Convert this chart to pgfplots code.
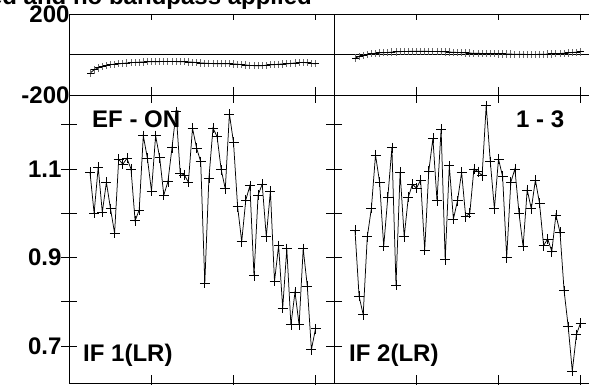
\documentclass[border=0pt]{standalone}
\usepackage{fontspec}
\setmainfont{Liberation Sans}
\usepackage{pgfplots}
\usepackage{pgfplotstable}
\pgfplotsset{compat=1.18}

\pgfplotstableread{
x amp ph
21.0 1.0925 -92
25.1 1.000 -76
29.2 1.104 -66
33.3 1.002 -59
37.4 1.070 -54
41.5 1.010 -50
45.6 0.955 -48
49.7 1.122 -46
53.8 1.1105 -44
57.9 1.124 -42
62.0 1.100 -40
66.1 0.983 -39
70.2 1.0075 -38
74.3 1.175 -37
78.4 1.124 -36
82.5 1.050 -36
86.6 1.175 -36
90.7 1.1255 -35
94.8 1.041 -35
98.9 1.071 -35
103.0 1.148 -35
107.1 1.229 -35
111.2 1.090 -36
115.3 1.0865 -36
119.4 1.070 -37
123.5 1.192 -38
127.6 1.147 -40
131.7 1.1165 -42
135.8 0.842 -43
139.9 1.079 -44
144.0 1.192 -45
148.1 1.173 -45
152.2 1.098 -46
156.3 1.055 -46
160.4 1.224 -46
164.5 1.160 -47
168.6 1.015 -48
172.7 0.936 -50
176.8 1.030 -52
180.9 1.062 -54
185.0 0.859 -55
189.1 1.041 -56
193.2 1.0655 -55
197.3 0.947 -53
201.4 1.050 -51
205.5 0.846 -50
209.6 0.927 -48
213.7 0.786 -47
217.8 0.920 -46
221.9 0.748 -44
226.0 0.822 -42
230.1 0.748 -40
234.2 0.920 -39
238.3 0.835 -41
242.4 0.692 -44
246.5 0.739 -46
}\tableL

\pgfplotstableread{
x amp ph
21.0 0.961 -18
25.1 0.812 -10
29.2 0.771 -4
33.3 0.947 1
37.4 1.011 4
41.5 1.1316 6
45.6 1.070 8
49.7 0.925 9
53.8 1.036 10
57.9 1.148 12
62.0 0.838 13
66.1 1.0925 14
70.2 0.947 15
74.3 1.036 15
78.4 1.0655 16
82.5 1.0565 16
86.6 1.075 16
90.7 0.917 16
94.8 1.0955 15
98.9 1.169 15
103.0 1.028 15
107.1 1.190 14
111.2 0.895 13
115.3 1.107 12
119.4 0.987 11
123.5 1.028 10
127.6 1.0925 9
131.7 0.992 8
135.8 1.000 7
139.9 1.100 6
144.0 1.094 6
148.1 1.085 5
152.2 1.243 5
156.3 1.1165 4
160.4 1.010 4
164.5 1.1225 3
168.6 1.083 3
172.7 0.900 2
176.8 1.070 2
180.9 1.100 1
185.0 1.000 1
189.1 0.925 1
193.2 1.0527 0
197.3 1.010 0
201.4 1.075 0
205.5 1.0227 1
209.6 0.927 1
213.7 0.942 2
217.8 0.9135 3
221.9 0.996 4
226.0 0.957 5
230.1 0.825 6
234.2 0.744 8
238.3 0.643 10
242.4 0.726 11
246.5 0.752 13
}\tableR

\pgfplotsset{
  panel/.style={
    scale only axis, width=265pt,
    xmin=0, xmax=265,
    xtick={82,164,246}, xticklabels={},
    axis line style={black, line width=0.8pt},
    tick style={black, line width=0.8pt},
    ticklabel style={font=\fontsize{24}{28}\selectfont\bfseries},
    yticklabel style={xshift=4pt},
  },
  amp/.style={
    panel, height=288pt,
    ymin=0.6166, ymax=1.267,
    ytick={0.7,0.8,0.9,1.0,1.1,1.2},
    tick align=center, major tick length=16pt,
  },
  ph/.style={
    panel, height=81pt,
    ymin=-200, ymax=200,
    ytick={-200,200},
    tick align=inside, major tick length=6pt,
    extra y ticks={0}, extra y tick labels={},
    extra y tick style={grid=major, major grid style={black, line width=0.6pt}, major tick length=0pt},
  },
  ampline/.style={black, line width=0.75pt, mark=+, mark size=5pt, mark options={line width=0.75pt}},
  phline/.style={black, line width=0.8pt, mark=-, mark size=3.5pt,
    error bars/.cd, y dir=both, y fixed=18, error mark=none,
    error bar style={black!60, line width=1pt}},
}

\begin{document}
\begin{tikzpicture}
\useasboundingbox (0pt,0pt) rectangle (589pt,385pt);
\clip (0pt,0pt) rectangle (589pt,385pt);

% left amplitude
\begin{axis}[amp, at={(69pt,2pt)}, anchor=south west,
  yticklabels={0.7,{},0.9,{},1.1,{}}]
\addplot[ampline] table[x=x, y=amp] {\tableL};
\end{axis}
% right amplitude
\begin{axis}[amp, at={(334pt,2pt)}, anchor=south west, yticklabels={}]
\addplot[ampline] table[x=x, y=amp] {\tableR};
\end{axis}
% left phase
\begin{axis}[ph, at={(69pt,290pt)}, anchor=south west,
  yticklabels={-200,200}]
\addplot[phline] table[x=x, y=ph] {\tableL};
\end{axis}
% right phase
\begin{axis}[ph, at={(334pt,290pt)}, anchor=south west, yticklabels={}]
\addplot[phline] table[x=x, y=ph] {\tableR};
\end{axis}

\begin{scope}[every node/.style={inner sep=0pt, font=\fontsize{24}{28}\selectfont\bfseries}]
\node[anchor=base east] at (312pt,380.5pt) {calibrated and no bandpass applied};
\node[anchor=base west] at (92pt,257pt) {EF - ON};
\node[anchor=base west] at (516pt,257pt) {1 - 3};
\node[anchor=base west] at (83pt,23pt) {IF 1(LR)};
\node[anchor=base west] at (349pt,23pt) {IF 2(LR)};
\end{scope}
\end{tikzpicture}
\end{document}
